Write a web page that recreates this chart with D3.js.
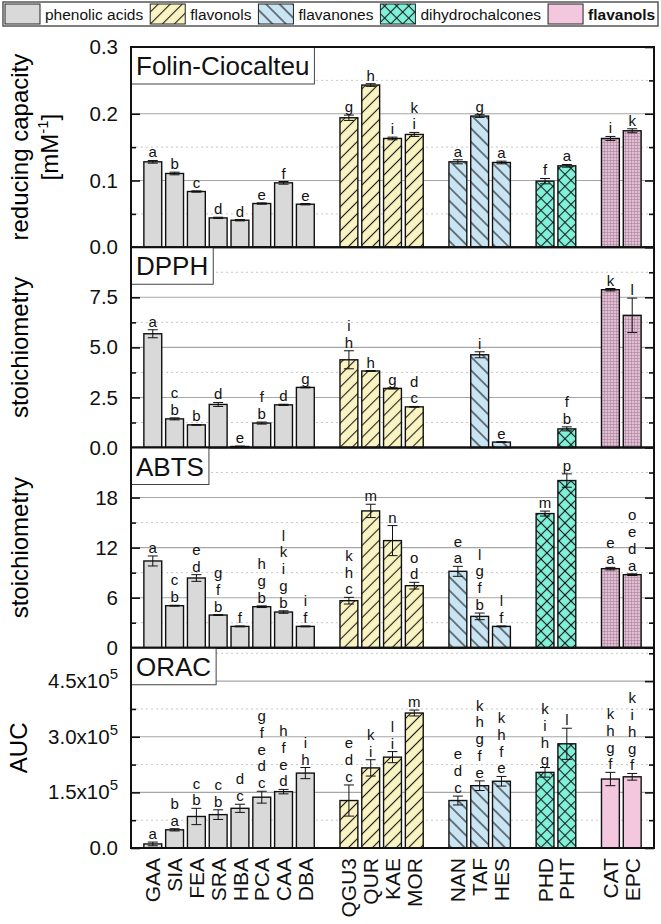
<!DOCTYPE html>
<html>
<head>
<meta charset="utf-8">
<script src="https://cdn.jsdelivr.net/npm/d3@7"></script>
<style>
    body { margin: 0; background: #fff; }
    svg { font-family: "Liberation Sans", Arial, sans-serif; }
</style>
</head>
<body>
<div id="chart"></div>
<script>

//- Data
const CATEGORIES = ["GAA", "SIA", "FEA", "SRA", "HBA", "PCA", "CAA", "DBA",
    "QGU3", "QUR", "KAE", "MOR",
    "NAN", "TAF", "HES",
    "PHD", "PHT",
    "CAT", "EPC"];

const GROUP_NAMES = ["phenolic acids", "flavonols", "flavanones", "dihydrochalcones", "flavanols"];

const CATEGORY_GROUPS = ["phenolic acids", "phenolic acids", "phenolic acids", "phenolic acids",
    "phenolic acids", "phenolic acids", "phenolic acids", "phenolic acids",
    "flavonols", "flavonols", "flavonols", "flavonols",
    "flavanones", "flavanones", "flavanones",
    "dihydrochalcones", "dihydrochalcones",
    "flavanols", "flavanols"];

const FOLIN_VALUES = [0.128, 0.1105, 0.0835, 0.044, 0.0405, 0.0655, 0.0965, 0.0645,
    0.194, 0.243, 0.163, 0.169, 0.128, 0.1965, 0.127, 0.099, 0.122, 0.163, 0.1745];
const FOLIN_ERRORS = [0.002, 0.002, 0.001, 0.001, 0.001, 0.001, 0.002, 0.001,
    0.004, 0.002, 0.002, 0.003, 0.003, 0.002, 0.002, 0.004, 0.002, 0.003, 0.003];
const FOLIN_LETTERS = ["a", "b", "c", "d", "d", "e", "f", "e",
    "g", "h", "i", "k i", "a", "g", "a", "f", "a", "i", "k"];

const DPPH_VALUES = [5.68, 1.43, 1.13, 2.15, 0.05, 1.22, 2.13, 3.0,
    4.38, 3.82, 2.95, 2.03, null, 4.63, 0.27, null, 0.93, 7.88, 6.6];
const DPPH_ERRORS = [0.2, 0.05, 0.02, 0.1, 0.02, 0.05, 0.03, 0.02,
    0.45, 0.02, 0.03, 0.02, null, 0.15, 0.02, null, 0.1, 0.06, 0.86];
const DPPH_LETTERS = ["a", "c b", "b", "d", "e", "f b", "d", "g",
    "i h", "h", "g", "d c", null, "i", "e", null, "f b", "k", "l"];

const ABTS_VALUES = [10.4, 5.04, 8.36, 3.92, 2.56, 4.92, 4.28, 2.56,
    5.64, 16.4, 12.84, 7.44, 9.16, 3.76, 2.56, 16.08, 20.04, 9.48, 8.76];
const ABTS_ERRORS = [0.6, 0.05, 0.4, 0.05, 0.05, 0.1, 0.15, 0.05,
    0.4, 0.8, 1.8, 0.4, 0.6, 0.4, 0.05, 0.3, 0.8, 0.15, 0.1];
const ABTS_LETTERS = ["a", "c b", "e d", "g f b", "f", "h g b", "l k i g b", "i f",
    "k h c", "m", "n", "o d", "e a", "l g f b", "l f", "m", "p", "e a", "o e d a"];

const ORAC_VALUES = [1.1e4, 4.9e4, 8.5e4, 9.0e4, 1.07e5, 1.37e5, 1.52e5, 2.02e5,
    1.28e5, 2.16e5, 2.45e5, 3.64e5, 1.28e5, 1.68e5, 1.80e5, 2.04e5, 2.81e5, 1.86e5, 1.92e5];
const ORAC_ERRORS = [0.5e4, 0.3e4, 2.2e4, 1.3e4, 1.1e4, 1.6e4, 0.6e4, 1.5e4,
    4.2e4, 2.2e4, 1.5e4, 0.8e4, 1.2e4, 1.3e4, 1.3e4, 1.3e4, 4.2e4, 1.8e4, 0.9e4];
const ORAC_LETTERS = ["a", "b a", "c b", "c b", "d c", "g f e d c", "h f e d", "i h",
    "e d c", "k i", "l i", "m", "e d c", "k h g f e", "k h f e", "k i h g", "l", "k h g f", "k i h g f"];

const PANEL_TITLES = ["Folin-Ciocalteu", "DPPH", "ABTS", "ORAC"];
const PANEL_MAX = [0.3, 10, 24, 5.4e5];
const PANEL_MAJOR_TICKS = [[0, 0.1, 0.2, 0.3], [0, 2.5, 5, 7.5], [0, 6, 12, 18], [0, 1.5e5, 3e5, 4.5e5]];
const PANEL_MINOR_TICKS = [[0.05, 0.15, 0.25], [1.25, 3.75, 6.25, 8.75], [3, 9, 15, 21], [0.75e5, 2.25e5, 3.75e5, 5.25e5]];


//- Layout
const WIDTH = 661;
const HEIGHT = 924;
const _plot = { left: 131, right: 654, top: 47, bottom: 848 };
const PANEL_H = (_plot.bottom - _plot.top) / 4;
const LETTER_SIZE = 15;     // font size of significance letters
const LETTER_STEP = 16.8;   // vertical spacing of stacked significance letters

const GROUP_COLORS = {
    "phenolic acids": "#d9d9d9",
    "flavonols": "#faf3c2",
    "flavanones": "#c9e5f3",
    "dihydrochalcones": "#80f2da",
    "flavanols": "#f3c8de"
};


let svg = d3.select("#chart").append("svg")
    .attr("width", WIDTH)
    .attr("height", HEIGHT);


//-- Patterns
let defs = svg.append("defs");

function addHatch(id, bg, angle, spacing, cross) {
    let p = defs.append("pattern")
        .attr("id", id)
        .attr("patternUnits", "userSpaceOnUse")
        .attr("width", spacing)
        .attr("height", spacing)
        .attr("patternTransform", `rotate(${angle})`);
    p.append("rect").attr("width", spacing).attr("height", spacing).attr("fill", bg);
    p.append("line")
        .attr("x1", spacing / 2).attr("x2", spacing / 2)
        .attr("y1", 0).attr("y2", spacing)
        .attr("stroke", "#1a1a1a").attr("stroke-width", 1.1);
    if (cross) {
        p.append("line")
            .attr("x1", 0).attr("x2", spacing)
            .attr("y1", spacing / 2).attr("y2", spacing / 2)
            .attr("stroke", "#1a1a1a").attr("stroke-width", 1.1);
    }
}

addHatch("hatchFlavonols", GROUP_COLORS["flavonols"], 45, 8.5, false);
addHatch("hatchFlavanones", GROUP_COLORS["flavanones"], -45, 9.5, false);
addHatch("hatchChalcones", GROUP_COLORS["dihydrochalcones"], 45, 8.5, true);

//- fine grid for flavanols
let grid = defs.append("pattern")
    .attr("id", "gridFlavanols")
    .attr("patternUnits", "userSpaceOnUse")
    .attr("width", 3).attr("height", 3);
grid.append("rect").attr("width", 3).attr("height", 3).attr("fill", "#e2bfd2");
grid.append("path").attr("d", "M1.5,0V3M0,1.5H3")
    .attr("stroke", "#a47f96").attr("stroke-width", 0.8).attr("stroke-opacity", 0.7);

function barFill(group, panelIndex) {
    if (group == "flavonols") return "url(#hatchFlavonols)";
    if (group == "flavanones") return "url(#hatchFlavanones)";
    if (group == "dihydrochalcones") return "url(#hatchChalcones)";
    if (group == "flavanols") return panelIndex == 3 ? GROUP_COLORS["flavanols"] : "url(#gridFlavanols)";
    return GROUP_COLORS[group];
}


//-- X scale; a blank slot between compound groups
let slots = [];
CATEGORIES.forEach((c, i) => {
    if (i > 0 && CATEGORY_GROUPS[i] != CATEGORY_GROUPS[i - 1]) slots.push("gap" + i);
    slots.push(c);
});

let xScale = d3.scalePoint()
    .domain(slots)
    .range([_plot.left, _plot.right])
    .padding(1);

const BAR_W = xScale.step() * 0.82;


//-- Panels
let panels = [
    { values: FOLIN_VALUES, errors: FOLIN_ERRORS, letters: FOLIN_LETTERS },
    { values: DPPH_VALUES, errors: DPPH_ERRORS, letters: DPPH_LETTERS },
    { values: ABTS_VALUES, errors: ABTS_ERRORS, letters: ABTS_LETTERS },
    { values: ORAC_VALUES, errors: ORAC_ERRORS, letters: ORAC_LETTERS }
];

panels.forEach((panel, pi) => {

    let top = _plot.top + pi * PANEL_H;
    let bottom = top + PANEL_H;

    let yScale = d3.scaleLinear()
        .domain([0, PANEL_MAX[pi]])
        .range([bottom, top]);

    let g = svg.append("g");

    //- Gridlines
    g.selectAll(".minorGrid")
        .data(PANEL_MINOR_TICKS[pi])
        .enter()
        .append("line")
        .attr("x1", _plot.left).attr("x2", _plot.right)
        .attr("y1", d => yScale(d)).attr("y2", d => yScale(d))
        .attr("stroke", "#c8c8c8")
        .attr("stroke-width", 1)
        .attr("stroke-dasharray", "2,3");

    g.selectAll(".majorGrid")
        .data(PANEL_MAJOR_TICKS[pi].filter(d => d > 0))
        .enter()
        .append("line")
        .attr("x1", _plot.left).attr("x2", _plot.right)
        .attr("y1", d => yScale(d)).attr("y2", d => yScale(d))
        .attr("stroke", "#a6a6a6")
        .attr("stroke-width", 1.1);

    //- Bars
    let rows = CATEGORIES.map((c, i) => ({
        cat: c,
        group: CATEGORY_GROUPS[i],
        value: panel.values[i],
        err: panel.errors[i],
        letters: panel.letters[i]
    })).filter(d => d.value != null);

    g.selectAll(".bar")
        .data(rows)
        .enter()
        .append("rect")
        .attr("x", d => xScale(d.cat) - BAR_W / 2)
        .attr("y", d => yScale(d.value))
        .attr("width", BAR_W)
        .attr("height", d => bottom - yScale(d.value))
        .attr("fill", d => barFill(d.group, pi))
        .attr("stroke", "#111")
        .attr("stroke-width", 1.4);

    //- Error bars
    let errGroup = g.append("g")
        .attr("stroke", "#111")
        .attr("stroke-width", 1);

    rows.forEach(d => {
        let x = xScale(d.cat);
        let y1 = yScale(d.value + d.err);
        let y0 = yScale(Math.max(0, d.value - d.err));
        errGroup.append("line").attr("x1", x).attr("x2", x).attr("y1", y1).attr("y2", y0);
        errGroup.append("line").attr("x1", x - 5).attr("x2", x + 5).attr("y1", y1).attr("y2", y1);
        errGroup.append("line").attr("x1", x - 5).attr("x2", x + 5).attr("y1", y0).attr("y2", y0);
    });

    //- Significance letters; one text per bar, letters stacked as lines
    //  top line first, last line sits just above the error bar
    rows.forEach(d => {
        let letters = d.letters.split(" ");
        let x = xScale(d.cat);
        let yLast = yScale(d.value + d.err) - 3;

        let t = g.append("text")
            .attr("x", x)
            .attr("y", yLast - (letters.length - 1) * LETTER_STEP)
            .attr("text-anchor", "middle")
            .attr("font-size", LETTER_SIZE)
            .attr("fill", "#111");

        letters.forEach((l, k) => {
            t.append("tspan")
                .attr("x", x)
                .attr("dy", k == 0 ? 0 : LETTER_STEP)
                .text(l);
        });
    });

    //- Axes
    let yAxis = d3.axisLeft(yScale)
        .tickValues(PANEL_MAJOR_TICKS[pi])
        .tickSizeInner(-9)
        .tickSizeOuter(0)
        .tickPadding(13);

    let yAxisGroup = g.append("g")
        .attr("transform", `translate(${_plot.left},0)`)
        .call(yAxis);

    yAxisGroup.selectAll("text")
        .attr("font-size", 20.5)
        .attr("font-family", "Liberation Sans, Arial, sans-serif")
        .attr("fill", "#111");

    if (pi == 3) {
        yAxisGroup.selectAll("text").each(function (d) {
            let t = d3.select(this).text(null);
            if (d == 0) { t.text("0.0"); return; }
            t.append("tspan").text(`${(d / 1e5).toFixed(1)}x10`);
            t.append("tspan").attr("dy", -9).attr("font-size", 15).text("5");
        });
    }
    else if (pi != 2) {
        yAxisGroup.selectAll("text").text(d => d.toFixed(1));
    }

    g.append("g")
        .attr("transform", `translate(${_plot.left},0)`)
        .call(d3.axisLeft(yScale).tickValues(PANEL_MINOR_TICKS[pi]).tickSizeInner(-5).tickSizeOuter(0).tickFormat(""));

    g.append("g")
        .attr("transform", `translate(${_plot.right},0)`)
        .call(d3.axisRight(yScale).tickValues(PANEL_MAJOR_TICKS[pi]).tickSizeInner(-9).tickSizeOuter(0).tickFormat(""));

    g.append("g")
        .attr("transform", `translate(${_plot.right},0)`)
        .call(d3.axisRight(yScale).tickValues(PANEL_MINOR_TICKS[pi]).tickSizeInner(-5).tickSizeOuter(0).tickFormat(""));

    g.selectAll(".domain").remove();
    g.selectAll(".tick line").attr("stroke", "#111").attr("stroke-width", 1.6);

    //- Panel title box
    let titleBox = g.append("rect")
        .attr("x", _plot.left)
        .attr("y", top)
        .attr("height", 37)
        .attr("fill", "#fff")
        .attr("stroke", "#444")
        .attr("stroke-width", 1);

    let titleText = g.append("text")
        .attr("x", _plot.left + 5)
        .attr("y", top + 28)
        .attr("font-size", 26)
        .attr("fill", "#111")
        .text(PANEL_TITLES[pi]);

    titleBox.attr("width", titleText.node().getComputedTextLength() + 10);

    //- Frame
    g.append("rect")
        .attr("x", _plot.left)
        .attr("y", top)
        .attr("width", _plot.right - _plot.left)
        .attr("height", PANEL_H)
        .attr("fill", "none")
        .attr("stroke", "#111")
        .attr("stroke-width", 2);

    //- Y axis titles
    let midY = (top + bottom) / 2;
    if (pi == 0) {
        svg.append("text")
            .attr("transform", `translate(28,${midY}) rotate(-90)`)
            .attr("text-anchor", "middle")
            .attr("font-size", 24)
            .text("reducing capacity");
        let unit = svg.append("text")
            .attr("transform", `translate(58,${midY}) rotate(-90)`)
            .attr("text-anchor", "middle")
            .attr("font-size", 24);
        unit.append("tspan").text("[mM");
        unit.append("tspan").attr("dy", -10).attr("font-size", 15).text("-1");
        unit.append("tspan").attr("dy", 10).text("]");
    }
    else {
        svg.append("text")
            .attr("transform", `translate(${pi == 3 ? 27 : 28},${midY}) rotate(-90)`)
            .attr("text-anchor", "middle")
            .attr("font-size", 24)
            .text(pi == 3 ? "AUC" : "stoichiometry");
    }
});


//-- X axis labels (rotated)
svg.append("g")
    .selectAll("text")
    .data(CATEGORIES)
    .enter()
    .append("text")
    .attr("transform", d => `translate(${xScale(d)},${_plot.bottom + 10}) rotate(-90)`)
    .attr("dy", "0.36em")
    .attr("text-anchor", "end")
    .attr("font-size", 21)
    .attr("fill", "#111")
    .text(d => d);


//-- Legend
let legend = svg.append("g");

legend.append("rect")
    .attr("x", 3).attr("y", 2)
    .attr("width", 655).attr("height", 24)
    .attr("fill", "#fff")
    .attr("stroke", "#555")
    .attr("stroke-width", 1.5);

let legendX = 5;
GROUP_NAMES.forEach(name => {
    legend.append("rect")
        .attr("x", legendX).attr("y", 4)
        .attr("width", 35).attr("height", 20)
        .attr("fill", barFill(name, 3))
        .attr("stroke", "#222")
        .attr("stroke-width", 1);

    let t = legend.append("text")
        .attr("x", legendX + 40)
        .attr("y", 19.5)
        .attr("font-size", 15.5)
        .attr("font-weight", name == "flavanols" ? "bold" : "normal")
        .attr("fill", "#111")
        .text(name);

    legendX += 40 + t.node().getComputedTextLength() + 7;
});

</script>
</body>
</html>
